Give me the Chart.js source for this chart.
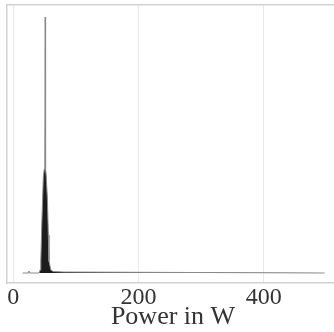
<!DOCTYPE html>
<html>
<head>
<meta charset="utf-8">
<script src="https://cdn.jsdelivr.net/npm/chart.js@4.4.0/dist/chart.umd.min.js"></script>
<style>
    html, body { margin: 0; padding: 0; background: #fff; overflow: hidden; }
    #wrap { width: 334px; height: 332px; overflow: hidden; }
    #box { width: 342px; height: 332px; }
</style>
</head>
<body>
<div id="wrap"><div id="box"><canvas id="chart"></canvas></div></div>
<script>
    // Power distribution (density, arbitrary units)
    const powerW  = [15, 24, 25, 26, 41, 43, 44, 45.5, 48, 49.5, 50.4, 51, 51.6, 52.5, 54.5, 56, 57, 60, 64, 80, 497];
    const density = [0,  0,  2,  0,  0,  3,  12, 48,   96, 104, 108,  256, 104, 98,   74,   38, 12, 3,  1.5, 1, 0];
    const xTicks  = [0, 200, 400];

    const serif = "'Liberation Serif', 'DejaVu Serif', serif";
    const frame = '#d2d2d2';

    var ctx = document.getElementById('chart').getContext('2d');
    var myChart = new Chart(ctx, {
        type: 'line',
        data: {
            datasets: [{
                data: powerW.map((x, i) => ({ x: x, y: density[i] })),
                borderColor: '#8a8a8a',
                borderWidth: 1,
                backgroundColor: '#1c1c1c',
                fill: 'origin',
                pointRadius: 0,
                tension: 0
            }]
        },
        options: {
            responsive: true,
            maintainAspectRatio: false,
            animation: false,
            layout: { padding: { left: 7, top: 5, right: 3, bottom: 0 } },
            plugins: { legend: { display: false }, tooltip: { enabled: false } },
            scales: {
                x: {
                    type: 'linear',
                    min: -10,
                    max: 520,
                    afterBuildTicks: function (scale) {
                        scale.ticks = xTicks.map(v => ({ value: v }));
                    },
                    afterFit: function (scale) { scale.height = 49; },
                    grid: { color: '#e8e8e8', lineWidth: 1, drawTicks: false },
                    border: { color: frame, width: 1.5 },
                    ticks: {
                        color: '#333',
                        padding: 0,
                        font: { family: serif, size: 24 }
                    },
                    title: {
                        display: true,
                        text: 'Power in W',
                        color: '#333',
                        padding: { top: 0, bottom: -1 },
                        font: { family: serif, size: 26 }
                    }
                },
                xTop: {
                    type: 'linear',
                    position: 'top',
                    min: -10,
                    max: 520,
                    afterFit: function (scale) { scale.height = 0; },
                    grid: { display: false, drawTicks: false },
                    ticks: { display: false },
                    border: { color: frame, width: 1.5 }
                },
                y: {
                    min: -10,
                    max: 268,
                    afterFit: function (scale) { scale.width = 0; },
                    grid: { display: false, drawTicks: false },
                    ticks: { display: false },
                    border: { color: frame, width: 1.5 }
                }
            }
        }
    });
</script>
</body>
</html>
